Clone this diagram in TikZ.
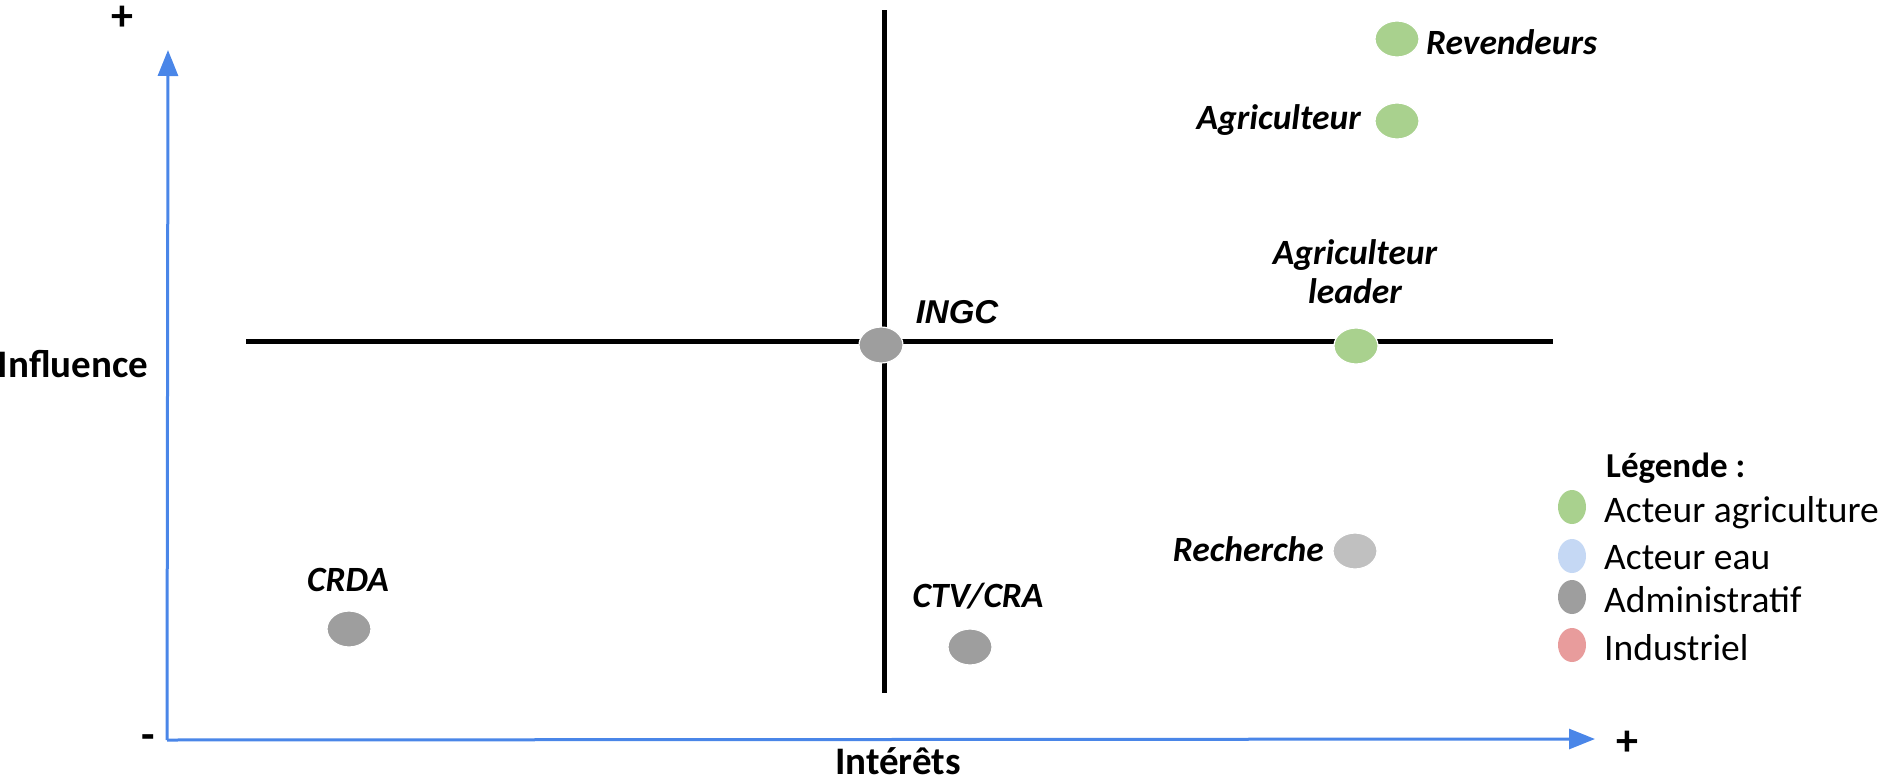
\documentclass[tikz,border=0pt]{standalone}
\usepackage{fontspec}
\setmainfont{Carlito}
\newfontfamily\arialfont{Liberation Sans}
\usetikzlibrary{arrows.meta,shapes.geometric}
\definecolor{agri}{HTML}{A9D18E}
\definecolor{eau}{HTML}{C5D8F4}
\definecolor{admin}{HTML}{9E9E9E}
\definecolor{admlight}{HTML}{C0C0C0}
\definecolor{indus}{HTML}{E89C9C}
\definecolor{axisblue}{HTML}{4A86E8}
\tikzset{
  actor/.style={ellipse, draw=white, line width=1.2pt, minimum width=44pt, minimum height=36pt, inner sep=0pt},
  legdot/.style={ellipse, minimum width=28pt, minimum height=34pt, inner sep=0pt},
  lbl/.style={font=\fontsize{35.5}{39}\selectfont\bfseries\itshape, inner sep=0pt, align=center},
  legtxt/.style={font=\fontsize{37.5}{40}\selectfont, inner sep=0pt, anchor=west},
  axislbl/.style={font=\fontsize{39}{40}\selectfont\bfseries, inner sep=0pt},
  sign/.style={font=\fontsize{44}{44}\selectfont\bfseries, inner sep=0pt},
  axisline/.style={draw=axisblue, line width=3pt},
  quad/.style={draw=black, line width=5pt}
}
\begin{document}
\begin{tikzpicture}[x=1pt,y=-1pt]
\useasboundingbox (0,0) rectangle (1883,779);
% axes
\coordinate (origin) at (167,740);
\coordinate (ytip) at (168,50);
\coordinate (xtip) at (1595,739);
\draw[axisline, -{Triangle[length=26pt,width=20pt]}] (origin) -- (ytip);
\draw[axisline, -{Triangle[length=26pt,width=20pt]}] (origin) -- (xtip);
\node[sign] (plustop) at (122,18) {+};
\node[sign] (plusright) at (1627,743) {+};
\node[sign] (minus) at (148,742) {-};
\node[axislbl] (influence) at (73,364) {Influence};
\node[axislbl] (interets) at (898,761) {Intérêts};
% quadrant lines
\coordinate (vtop) at (884,10);
\coordinate (vbot) at (884,693);
\coordinate (hleft) at (246,341);
\coordinate (hright) at (1553,341);
\draw[quad] (vtop) -- (vbot);
\draw[quad] (hleft) -- (hright);
% actors
\node[actor, fill=admin] (ingc) at (881,345) {};
\node[font=\fontsize{33}{36}\selectfont\arialfont\bfseries\itshape, inner sep=0pt] (ingctxt) at (957,312) {INGC};
\node[actor, fill=agri] (agleader) at (1356,346) {};
\node[lbl] (agleadertxt) at (1355,272) {Agriculteur\\leader};
\node[actor, fill=agri] (reven) at (1397,39) {};
\node[lbl, anchor=west] (reventxt) at (1426,42) {Revendeurs};
\node[actor, fill=agri] (agri) at (1397,121) {};
\node[lbl, anchor=east] (agritxt) at (1361,120) {Agriculteur};
\node[actor, fill=admlight] (rech) at (1355,551) {};
\node[lbl, anchor=east] (rechtxt) at (1324,549) {Recherche};
\node[actor, fill=admin] (crda) at (349,629) {};
\node[lbl] (crdatxt) at (348,580) {CRDA};
\node[actor, fill=admin] (ctv) at (970,647) {};
\node[lbl] (ctvtxt) at (978,596) {CTV/CRA};
% legend
\node[font=\fontsize{35}{39}\selectfont\bfseries, inner sep=0pt, anchor=west] (legtitle) at (1606,468) {Légende :};
\node[legdot, fill=agri] (l1) at (1572,507) {};
\node[legtxt] (l1t) at (1604,513) {Acteur agriculture};
\node[legdot, fill=eau] (l2) at (1572,556) {};
\node[legtxt] (l2t) at (1604,558) {Acteur eau};
\node[legdot, fill=admin] (l3) at (1572,597) {};
\node[legtxt] (l3t) at (1604,600) {Administratif};
\node[legdot, fill=indus] (l4) at (1572,645) {};
\node[legtxt] (l4t) at (1604,648) {Industriel};
\end{tikzpicture}
\end{document}
